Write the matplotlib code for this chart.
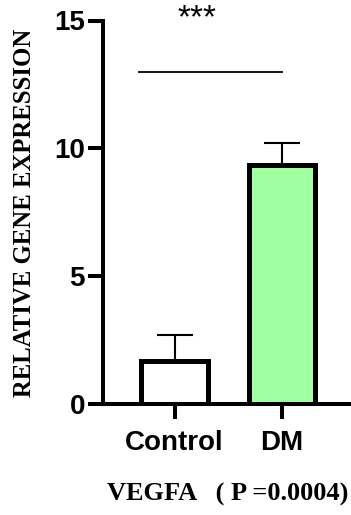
import matplotlib
matplotlib.use("Agg")
import matplotlib.pyplot as plt

categories = ["Control", "DM"]
means = [1.70, 9.35]
errors = [1.00, 0.85]
bar_colors = ["#FFFFFF", "#A0FFA0"]
yticks = [0, 5, 10, 15]
sig_y = 13.0
sig_text = "***"
ylabel = "RELATIVE GENE EXPRESSION"
title = "VEGFA   ( P =0.0004)"

fig = plt.figure(figsize=(3.51, 5.15), dpi=100)
ax = fig.add_axes([103/351, 111/515, 248/351, 383.5/515])

x = list(range(len(categories)))
ax.bar(x, means, width=0.62, color=bar_colors, edgecolor="black", linewidth=3.6, zorder=2)
ax.errorbar(x, means, yerr=[[0]*len(errors), errors], fmt="none", ecolor="black",
            elinewidth=1.5, capsize=13, capthick=1.5, zorder=1)

ax.set_xlim(-0.665, 1.64)
ax.set_ylim(0, 15)
ax.set_yticks(yticks)
ax.set_xticks(x)
ax.set_xticklabels(categories)

for s in ["top", "right"]:
    ax.spines[s].set_visible(False)
for s in ["left", "bottom"]:
    ax.spines[s].set_linewidth(2.9)
ax.tick_params(axis="both", width=2.9, length=11, labelsize=20)
ax.tick_params(axis="y", pad=2)
ax.tick_params(axis="x", pad=8)
for lab in ax.get_xticklabels() + ax.get_yticklabels():
    lab.set_fontfamily("Liberation Sans")
    lab.set_fontweight("bold")

ax.plot([-0.33, 1.0], [sig_y, sig_y], color="black", linewidth=1.3, clip_on=False)
ax.text(0.21, 14.72, sig_text, ha="center", va="baseline", fontsize=24,
        fontfamily="Liberation Sans", clip_on=False)

fig.text(25/351, 1 - 212.5/515, ylabel, rotation=90, ha="center", va="center",
         fontsize=17.8, fontweight="bold", fontfamily="Liberation Serif")
fig.text(228/351, 1 - 494/515, title, ha="center", va="center",
         fontsize=19, fontweight="bold", fontfamily="Liberation Serif")

fig.savefig("out.png", dpi=100)
